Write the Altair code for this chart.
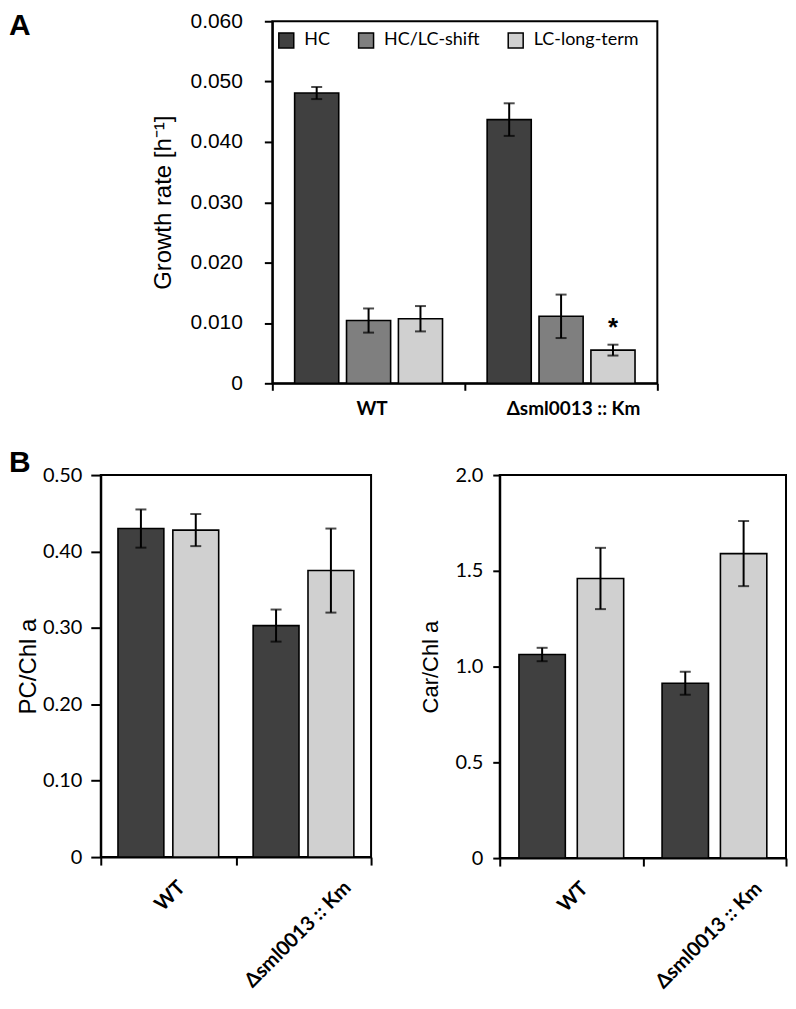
import altair as alt
import pandas as pd

# ---------------- data ----------------
groups = ["WT", "Δsml0013 :: Km"]
series_a = ["HC", "HC/LC-shift", "LC-long-term"]
colors_a = ["#404040", "#7f7f7f", "#d0d0d0"]

growth_wt = [0.0481, 0.0104, 0.0107]
growth_wt_err = [0.0010, 0.0020, 0.0021]
growth_mut = [0.0437, 0.0111, 0.0055]
growth_mut_err = [0.0027, 0.0036, 0.0009]
star_value = [0.0100]

series_b = ["HC", "LC-long-term"]
colors_b = ["#404040", "#d0d0d0"]
pc_wt = [0.430, 0.428]
pc_wt_err = [0.025, 0.021]
pc_mut = [0.303, 0.375]
pc_mut_err = [0.021, 0.055]
car_wt = [1.063, 1.460]
car_wt_err = [0.035, 0.160]
car_mut = [0.913, 1.590]
car_mut_err = [0.060, 0.170]

ticks_a = [0, 0.01, 0.02, 0.03, 0.04, 0.05, 0.06]
ticks_pc = [0, 0.1, 0.2, 0.3, 0.4, 0.5]
ticks_car = [0, 0.5, 1.0, 1.5, 2.0]


def make_df(series, wt, wt_err, mut, mut_err):
    rows = []
    for g, vals, errs in [(groups[0], wt, wt_err), (groups[1], mut, mut_err)]:
        for s, v, e in zip(series, vals, errs):
            rows.append({"group": g, "series": s, "value": v,
                         "lo": v - e, "hi": v + e})
    return pd.DataFrame(rows)


df_a = make_df(series_a, growth_wt, growth_wt_err, growth_mut, growth_mut_err)
df_pc = make_df(series_b, pc_wt, pc_wt_err, pc_mut, pc_mut_err)
df_car = make_df(series_b, car_wt, car_wt_err, car_mut, car_mut_err)
df_star = pd.DataFrame({"group": [groups[1]], "series": [series_a[2]],
                        "value": star_value, "t": ["*"]})

AXIS_FONT = "Liberation Sans"
CAL_FONT = "Lato"


def panel(df, series, colors, ymax, ticks, fmt, ytitle, ytitle_size,
          ylab_font, ylab_size, ylab_pad, ytick, ytitle_pad,
          pin, pout, xaxis, legend=None):
    x = alt.X("group:N", sort=groups,
              scale=alt.Scale(paddingInner=0, paddingOuter=0), axis=xaxis)
    xo = alt.XOffset("series:N", sort=series,
                     scale=alt.Scale(paddingInner=pin, paddingOuter=pout))
    y = alt.Y("value:Q",
              scale=alt.Scale(domain=[0, ymax], nice=False, zero=True),
              axis=alt.Axis(title=ytitle, values=ticks,
                            labelExpr=f"datum.value == 0 ? '0' : format(datum.value, '{fmt}')",
                            labelFont=ylab_font, labelFontSize=ylab_size,
                            labelPadding=ylab_pad, tickSize=ytick,
                            titleFont=AXIS_FONT, titleFontSize=ytitle_size,
                            titleFontWeight="normal", titlePadding=ytitle_pad))
    base = alt.Chart(df)
    bars = base.mark_bar(stroke="black", strokeWidth=1.6).encode(
        x=x, xOffset=xo, y=y,
        color=alt.Color("series:N", sort=series,
                        scale=alt.Scale(domain=series, range=colors),
                        legend=legend),
    )
    err = base.mark_rule(color="black", strokeWidth=2).encode(
        x=x, xOffset=xo, y="lo:Q", y2="hi:Q")
    cap_lo = base.mark_tick(color="black", thickness=2, size=11).encode(
        x=x, xOffset=xo, y="lo:Q")
    cap_hi = base.mark_tick(color="black", thickness=2, size=11).encode(
        x=x, xOffset=xo, y="hi:Q")
    return [bars, err, cap_lo, cap_hi], x, xo


def letter(txt, dx, dy):
    return alt.Chart(pd.DataFrame({"t": [txt]})).mark_text(
        font=AXIS_FONT, fontSize=30, fontWeight="bold", align="left",
        baseline="alphabetic", color="black"
    ).encode(text="t:N", x=alt.value(dx), y=alt.value(dy))


# ---------------- panel A ----------------
xaxis_a = alt.Axis(title=None, tickBand="extent", labelAngle=0,
                   labelFont=CAL_FONT, labelFontWeight="bold", labelFontSize=19,
                   labelPadding=9, tickSize=7, labelColor="black",
                   labelOffset={"condition": {"test": "datum.value == 'WT'", "value": 3},
                                "value": 12})
legend_a = alt.Legend(title=None, orient="none", legendX=5, legendY=10,
                      direction="horizontal", symbolType="square",
                      symbolSize=225, symbolStrokeColor="black",
                      symbolStrokeWidth=1.5, labelFont=CAL_FONT,
                      labelFontSize=18, labelOffset=9, columnPadding=25,
                      padding=0, labelColor="black")
layers_a, x_a, xo_a = panel(
    df_a, series_a, colors_a, 0.06, ticks_a, ".3f",
    "Growth rate [h⁻¹]", 24, AXIS_FONT, 21, 22, 8, 15, 0.15, 0.43,
    xaxis_a, legend_a)
star = alt.Chart(df_star).mark_text(
    font=AXIS_FONT, fontSize=26, fontWeight="bold", baseline="middle",
    dy=5, color="black").encode(x=x_a, xOffset=xo_a, y=alt.Y("value:Q"), text="t:N")
chart_a = alt.layer(*layers_a, star).properties(width=386, height=363)

# spacer carrying the panel letter "A" (its origin lines up with panel B1)
spacer_a = letter("A", -92, 14).properties(
    width=1, height=363,
    view=alt.ViewBackground(strokeOpacity=0, strokeWidth=0))

row_a = alt.hconcat(spacer_a, chart_a, spacing=48)

# ---------------- panel B ----------------
def xaxis_b():
    return alt.Axis(title=None, tickBand="extent", labelAngle=-45,
                    labelAlign="right", labelBaseline="top",
                    labelFont=CAL_FONT, labelFontWeight="bold", labelFontSize=20,
                    labelPadding=12, tickSize=8, labelColor="black",
                    labelOffset={"condition": {"test": "datum.value == 'WT'", "value": 6},
                                 "value": 37})


layers_b1, _, _ = panel(
    df_pc, series_b, colors_b, 0.5, ticks_pc, ".2f",
    "PC/Chl a", 24, CAL_FONT, 20, 9, 10, 2, 0.164, 0.314, xaxis_b())
chart_b1 = alt.layer(*layers_b1, letter("B", -92, -3)).properties(
    width=271, height=383)

layers_b2, _, _ = panel(
    df_car, series_b, colors_b, 2.0, ticks_car, ".1f",
    "Car/Chl a", 22, CAL_FONT, 20, 10, 7, 12, 0.205, 0.329, xaxis_b())
chart_b2 = alt.layer(*layers_b2).properties(width=287, height=384)

indep = dict(x="independent", y="independent", xOffset="independent",
             color="independent")

row_b = alt.hconcat(chart_b1, chart_b2, spacing=46).resolve_scale(**indep)
row_a = row_a.resolve_scale(**indep)

chart = alt.vconcat(row_a, row_b, spacing=28).resolve_scale(
    **indep
).properties(padding=0).configure_view(
    stroke="black", strokeWidth=2
).configure_axis(
    domainColor="black", domainWidth=2, tickColor="black", tickWidth=2,
    grid=False, labelColor="black", titleColor="black"
)

chart.save("out.html", embed_options={"renderer": "svg", "actions": False})
